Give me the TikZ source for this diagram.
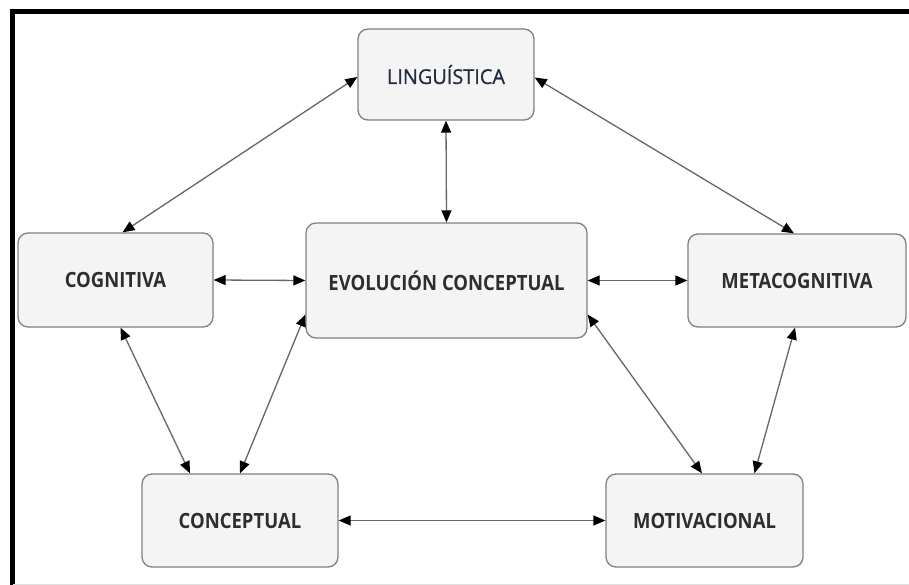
\documentclass[tikz,border=0pt]{standalone}
\usepackage{fontspec}
\setmainfont{Open Sans}
\newfontfamily\lingfont[FakeBold=0.8]{Open Sans}
\usetikzlibrary{arrows.meta}
\definecolor{boxfill}{HTML}{F4F4F4}
\definecolor{boxdraw}{HTML}{808080}
\definecolor{txt}{HTML}{2E2E2E}
\definecolor{lingtxt}{HTML}{222C3C}
\definecolor{edge}{HTML}{666666}
\newcommand{\lbl}[1]{\scalebox{0.88}[1]{#1}}
\tikzset{
  box/.style={draw=boxdraw, line width=1.3pt, fill=boxfill, rounded corners=10pt,
    text=txt, font=\fontsize{21}{25}\selectfont\bfseries, inner sep=0pt},
  link/.style={draw=edge, line width=1.3pt, {Triangle[length=12pt,width=10pt,color=black]}-{Triangle[length=12pt,width=10pt,color=black]}}
}
\begin{document}
\begin{tikzpicture}[x=1pt,y=-1pt]
\useasboundingbox (0,0) rectangle (909,585);
\fill[white] (0,0) rectangle (909,585);
% frame
\draw[line width=5pt, black] (12.5,600) -- (12.5,12) -- (920,12);
\draw[line width=0.8pt, black!12] (12.5,584.5) -- (909,584.5);
% nodes
\node[box, minimum width=176pt, minimum height=91pt, text=lingtxt, font=\lingfont\fontsize{20.5}{25}\selectfont] (ling) at (446,74.5) {\scalebox{0.97}[1]{LINGUÍSTICA}};
\node[box, minimum width=195pt, minimum height=94pt] (cog) at (115.5,280) {\lbl{COGNITIVA}};
\node[box, minimum width=281pt, minimum height=115pt] (evol) at (446.5,280.5) {\lbl{EVOLUCIÓN CONCEPTUAL}};
\node[box, minimum width=218pt, minimum height=93pt] (meta) at (797,280.5) {\lbl{METACOGNITIVA}};
\node[box, minimum width=196pt, minimum height=93pt] (conc) at (240,520.5) {\lbl{CONCEPTUAL}};
\node[box, minimum width=197pt, minimum height=93pt] (motiv) at (704.5,520.5) {\lbl{MOTIVACIONAL}};
% connectors
\draw[link] ([yshift=-2.5pt]ling.west) -- ([xshift=7pt]cog.north);
\draw[link] ([yshift=-3pt]ling.east) -- ([xshift=-3pt]meta.north);
\draw[link] (ling.south) -- (evol.north);
\draw[link] (cog.east) -- (evol.west);
\draw[link] (evol.east) -- (meta.west);
\draw[link] ([xshift=5pt]cog.south) -- ([xshift=-50pt]conc.north);
\draw[link] ([yshift=-34pt]evol.west) -- (conc.north);
\draw[link] ([yshift=-34pt]evol.east) -- ([xshift=-2.5pt]motiv.north);
\draw[link] ([xshift=-2pt]meta.south) -- ([xshift=50pt]motiv.north);
\draw[link] (conc.east) -- (motiv.west);
\end{tikzpicture}
\end{document}
